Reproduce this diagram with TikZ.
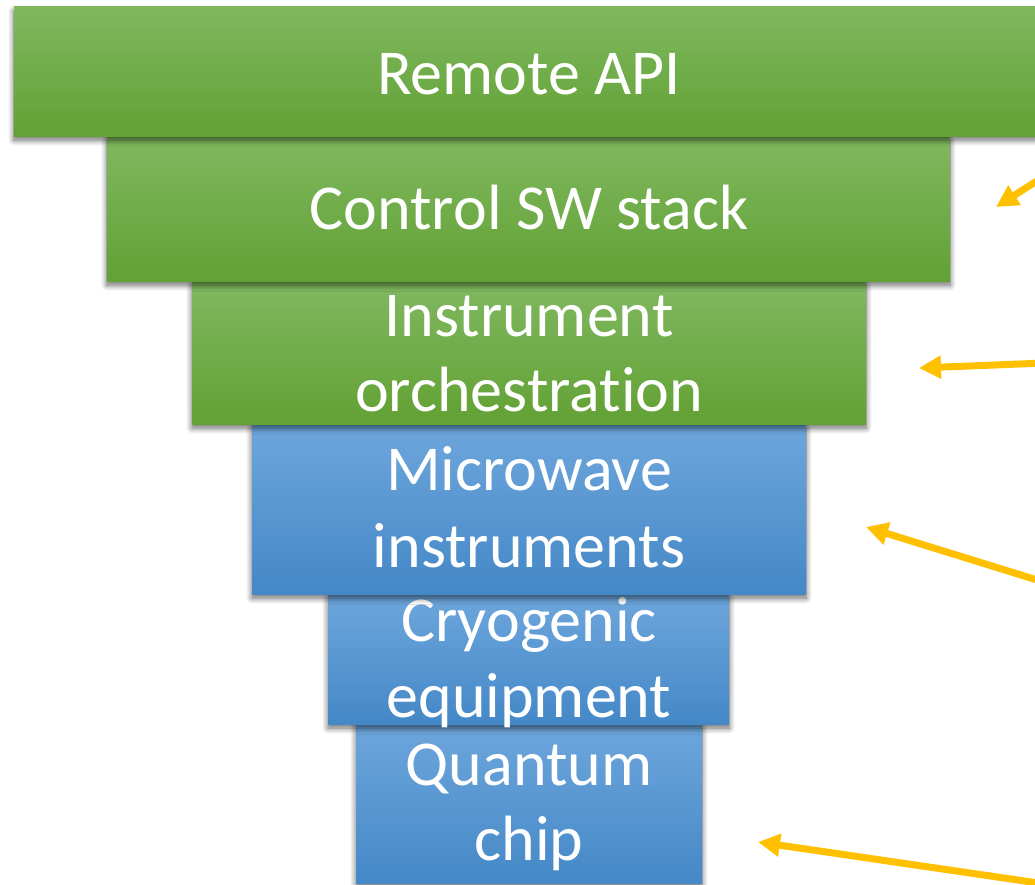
\documentclass[tikz,border=0pt]{standalone}
\usepackage{fontspec}
\setmainfont{Carlito}[Ligatures={NoCommon}]
\usetikzlibrary{arrows.meta,shadows.blur}

\definecolor{greentop}{RGB}{128,184,96}
\definecolor{greenbot}{RGB}{98,161,52}
\definecolor{bluetop}{RGB}{110,166,220}
\definecolor{bluebot}{RGB}{68,136,199}
\definecolor{pointer}{RGB}{255,192,0}

\tikzset{
  layer/.style={rectangle, inner sep=0pt, outer sep=0pt,
    blur shadow={shadow xshift=0bp, shadow yshift=-4bp,
      shadow blur radius=6bp, shadow blur steps=10, shadow opacity=60}},
  swlayer/.style={layer, top color=greentop, bottom color=greenbot},
  hwlayer/.style={layer, top color=bluetop, bottom color=bluebot},
  caption/.style={anchor=base, inner sep=0pt, text=white,
    font=\fontsize{64bp}{77bp}\selectfont},
  pointerline/.style={draw=pointer, line width=7bp,
    -{Triangle[length=22bp,width=22bp]}},
}

\begin{document}
\begin{tikzpicture}[x=1bp, y=-1bp]
\useasboundingbox (0,0) rectangle (1035,885);

% layers, from the bottom of the stack upwards
\node[hwlayer, minimum width=346bp, minimum height=160bp] (chip) at (529,803) {};
\node[caption] (chipA) at (529,785) {Quantum};
\node[caption] (chipB) at (529,860) {chip};

\node[hwlayer, minimum width=401bp, minimum height=130bp] (cryo) at (528.5,659) {};
\node[caption] (cryoA) at (529,641) {Cryogenic};
\node[caption] (cryoB) at (529,717) {equipment};

\node[hwlayer, minimum width=554bp, minimum height=170bp] (mw) at (529,509) {};
\node[caption] (mwA) at (529,490) {Microwave};
\node[caption] (mwB) at (529,567) {instruments};

\node[swlayer, minimum width=674bp, minimum height=143bp] (orch) at (529,352.5) {};
\node[caption] (orchA) at (529,336) {Instrument};
\node[caption] (orchB) at (529,411) {orchestration};

\node[swlayer, minimum width=843bp, minimum height=145bp] (ctrl) at (528.5,208.5) {};
\node[caption] (ctrlA) at (529,229) {Control SW stack};

\node[swlayer, minimum width=1029bp, minimum height=129bp] (api) at (528.5,71.5) {};
\node[caption] (apiA) at (529,94) {Remote API};

% pointers coming in from the right margin
\coordinate (p1s) at (1062,165);
\coordinate (p1e) at (996,207);
\coordinate (p2s) at (1045,363);
\coordinate (p2e) at (919,368);
\coordinate (p3s) at (1050,584);
\coordinate (p3e) at (866,527);
\coordinate (p4s) at (1045,884);
\coordinate (p4e) at (758,842);

\draw[pointerline] (p1s) -- (p1e);
\draw[pointerline] (p2s) -- (p2e);
\draw[pointerline] (p3s) -- (p3e);
\draw[pointerline] (p4s) -- (p4e);
\end{tikzpicture}
\end{document}
